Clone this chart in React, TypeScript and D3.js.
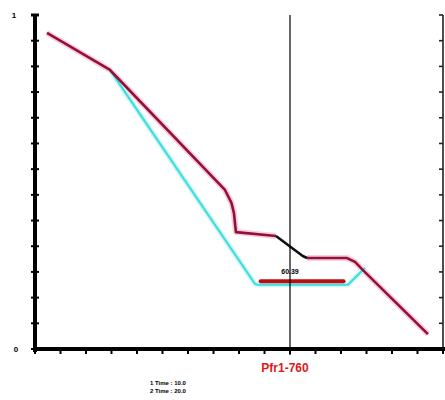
import React from "react";
import * as d3 from "d3";

const W = 445;
const H = 400;

// data coordinates (x: 0..16, y: 0..13)
const crimsonUpper: [number, number][] = [
  [0.47, 12.3], [2.94, 10.86], [7.45, 6.19], [7.7, 5.7], [7.8, 5.3], [7.88, 4.55], [9.45, 4.4],
];
const blackSeg: [number, number][] = [
  [9.45, 4.4], [10.5, 3.62], [10.67, 3.54],
];
const crimsonLower: [number, number][] = [
  [10.67, 3.54], [12.24, 3.54], [12.55, 3.39], [12.86, 3.07], [15.41, 0.58],
];
const cyanLine: [number, number][] = [
  [2.94, 10.86], [8.63, 2.53], [8.75, 2.5], [12.27, 2.5], [12.94, 3.15],
];
const redBar: [number, number][] = [
  [8.85, 2.64], [12.1, 2.64],
];
const xTicks = d3.range(0, 17);
const yTicks = d3.range(0, 14);
const yLabels = ["0", "1"];
const cursorX = 10;
const cursorLabel = "Pfr1-760";
const valueLabel = "60.39";
const legendLines = ["1 Time : 10.0", "2 Time : 20.0"];

export default function App() {
  const x = d3.scaleLinear().domain([0, 16]).range([35, 443]);
  const y = d3.scaleLinear().domain([0, 13]).range([349, 15]);
  const line = d3
    .line<[number, number]>()
    .x((d) => x(d[0]))
    .y((d) => y(d[1]));

  return (
    <svg
      width={W}
      height={H}
      style={{ position: "absolute", left: 0, top: 0, background: "#fff" }}
      fontFamily="Liberation Sans, Arial, sans-serif"
    >
      {/* halos */}
      <path d={line(crimsonUpper)!} fill="none" stroke="#f8d0dd" strokeWidth={6} strokeLinejoin="round" />
      <path d={line(crimsonLower)!} fill="none" stroke="#f8d0dd" strokeWidth={6} strokeLinejoin="round" />
      <path d={line(cyanLine)!} fill="none" stroke="#cff5f5" strokeWidth={5} strokeLinejoin="round" />
      {/* lines */}
      <path d={line(cyanLine)!} fill="none" stroke="#3fdede" strokeWidth={2.2} strokeLinejoin="round" />
      <path d={line(crimsonUpper)!} fill="none" stroke="#951038" strokeWidth={2.6} strokeLinejoin="round" />
      <path d={line(crimsonLower)!} fill="none" stroke="#951038" strokeWidth={2.6} strokeLinejoin="round" />
      <path d={line(blackSeg)!} fill="none" stroke="#111" strokeWidth={2.6} strokeLinejoin="round" />
      <path d={line(redBar)!} fill="none" stroke="#b81010" strokeWidth={4} strokeLinecap="round" />

      {/* cursor line */}
      <line x1={x(cursorX)} x2={x(cursorX)} y1={y(13)} y2={y(0) + 6} stroke="#000" strokeWidth={1.2} />
      <text x={x(cursorX)} y={y(2.64) - 7} fontSize={7} fontWeight="bold" textAnchor="middle" fill="#000">
        {valueLabel}
      </text>

      {/* left axis */}
      <line x1={x(0)} x2={x(0)} y1={y(13)} y2={y(0) + 3} stroke="#000" strokeWidth={4} />
      <line x1={x(0) - 4} x2={x(0) + 4} y1={y(13)} y2={y(13)} stroke="#000" strokeWidth={3} />
      {yTicks.map((t) => (
        <line key={"yl" + t} x1={x(0) - 4} x2={x(0) + 4} y1={y(t)} y2={y(t)} stroke="#000" strokeWidth={2} />
      ))}
      {/* right axis */}
      <line x1={x(16)} x2={x(16)} y1={y(13)} y2={y(0) + 4} stroke="#222" strokeWidth={1.6} />
      {yTicks.map((t) => (
        <line key={"yr" + t} x1={x(16) - 4} x2={x(16)} y1={y(t)} y2={y(t)} stroke="#222" strokeWidth={1.6} />
      ))}
      {/* bottom axis */}
      <line x1={x(0) - 2} x2={W} y1={y(0)} y2={y(0)} stroke="#000" strokeWidth={4} />
      {xTicks.map((t) => (
        <line key={"x" + t} x1={x(t)} x2={x(t)} y1={y(0)} y2={y(0) + 5} stroke="#000" strokeWidth={2} />
      ))}
      {/* y labels */}
      <text x={16} y={y(0) + 3} fontSize={8} fontWeight="bold" textAnchor="middle" fill="#000">
        {yLabels[0]}
      </text>
      <text x={14} y={y(13) + 3} fontSize={8} fontWeight="bold" textAnchor="middle" fill="#000">
        {yLabels[1]}
      </text>

      {/* cursor label */}
      <text x={x(cursorX) - 5} y={372} fontSize={12} fontWeight="bold" textAnchor="middle" fill="#e01818">
        {cursorLabel}
      </text>

      {/* legend */}
      {legendLines.map((l, i) => (
        <text key={l} x={150} y={385 + i * 8} fontSize={6} fontWeight="bold" fill="#000">
          {l}
        </text>
      ))}
    </svg>
  );
}
